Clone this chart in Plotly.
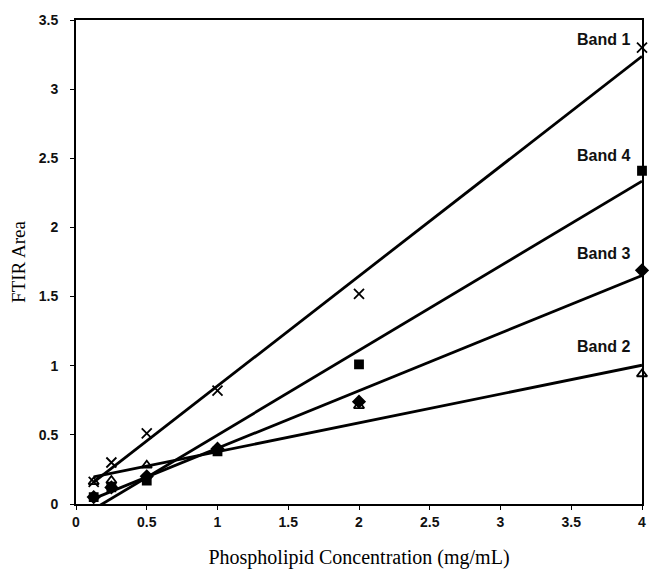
import numpy as np
import plotly.graph_objects as go

# Phospholipid concentration (mg/mL) and integrated FTIR band areas
conc = [0.125, 0.25, 0.5, 1, 2, 4]
band1 = [0.16, 0.30, 0.51, 0.82, 1.52, 3.30]
band2 = [0.16, 0.17, 0.28, 0.40, 0.71, 0.94]
band3 = [0.05, 0.12, 0.20, 0.40, 0.74, 1.69]
band4 = [0.05, 0.12, 0.17, 0.38, 1.01, 2.41]

band_names = ["Band 1", "Band 2", "Band 3", "Band 4"]
band_values = [band1, band2, band3, band4]
band_symbols = ["x-thin", "triangle-up-open", "diamond", "square"]
band_sizes = [10, 9, 9, 8]
label_y = [3.36, 1.14, 1.81, 2.52]

x_ticks = [0, 0.5, 1, 1.5, 2, 2.5, 3, 3.5, 4]
y_ticks = [0, 0.5, 1, 1.5, 2, 2.5, 3, 3.5]

fig = go.Figure()

x_arr = np.array(conc)
for name, vals, sym, sz in zip(band_names, band_values, band_symbols, band_sizes):
    slope, intercept = np.polyfit(x_arr, np.array(vals), 1)
    fit_x = [x_arr.min(), x_arr.max()]
    fit_y = [slope * fx + intercept for fx in fit_x]
    fig.add_trace(go.Scatter(
        x=fit_x, y=fit_y, mode="lines",
        line=dict(color="black", width=2.8),
        showlegend=False, hoverinfo="skip",
    ))
    fig.add_trace(go.Scatter(
        x=conc, y=vals, mode="markers", name=name,
        marker=dict(symbol=sym, size=sz, color="black",
                    line=dict(color="black", width=1.8)),
        showlegend=False, cliponaxis=False,
    ))

for name, ly in zip(band_names, label_y):
    fig.add_annotation(
        x=3.73, y=ly, text=f"<b>{name}</b>", showarrow=False,
        font=dict(family="Liberation Sans, Arial", size=16, color="#111"),
        xanchor="center", yanchor="middle",
    )

axis_common = dict(
    showgrid=False, zeroline=False,
    showline=True, linecolor="black", linewidth=2, mirror=True,
    ticks="outside", ticklen=4, tickwidth=1.2, tickcolor="black",
    tickfont=dict(family="Liberation Sans, Arial", size=14, color="#111"),
)

fig.update_layout(
    width=649, height=571,
    margin=dict(l=76, r=3, t=20, b=67),
    paper_bgcolor="white", plot_bgcolor="white",
    xaxis=dict(
        range=[0, 4], tickvals=x_ticks,
        ticktext=[f"<b>{v:g}</b>" for v in x_ticks],
        title=dict(text="Phospholipid Concentration (mg/mL)",
                   font=dict(family="Liberation Serif, Times New Roman", size=20, color="black"),
                   standoff=21),
        **axis_common,
    ),
    yaxis=dict(
        range=[0, 3.5], tickvals=y_ticks,
        ticktext=[f"<b>{v:g}</b>" for v in y_ticks],
        ticklabelstandoff=9,
        title=dict(text="FTIR Area",
                   font=dict(family="Liberation Serif, Times New Roman", size=19, color="black"),
                   standoff=8),
        **axis_common,
    ),
)

fig.write_html("out.html")
